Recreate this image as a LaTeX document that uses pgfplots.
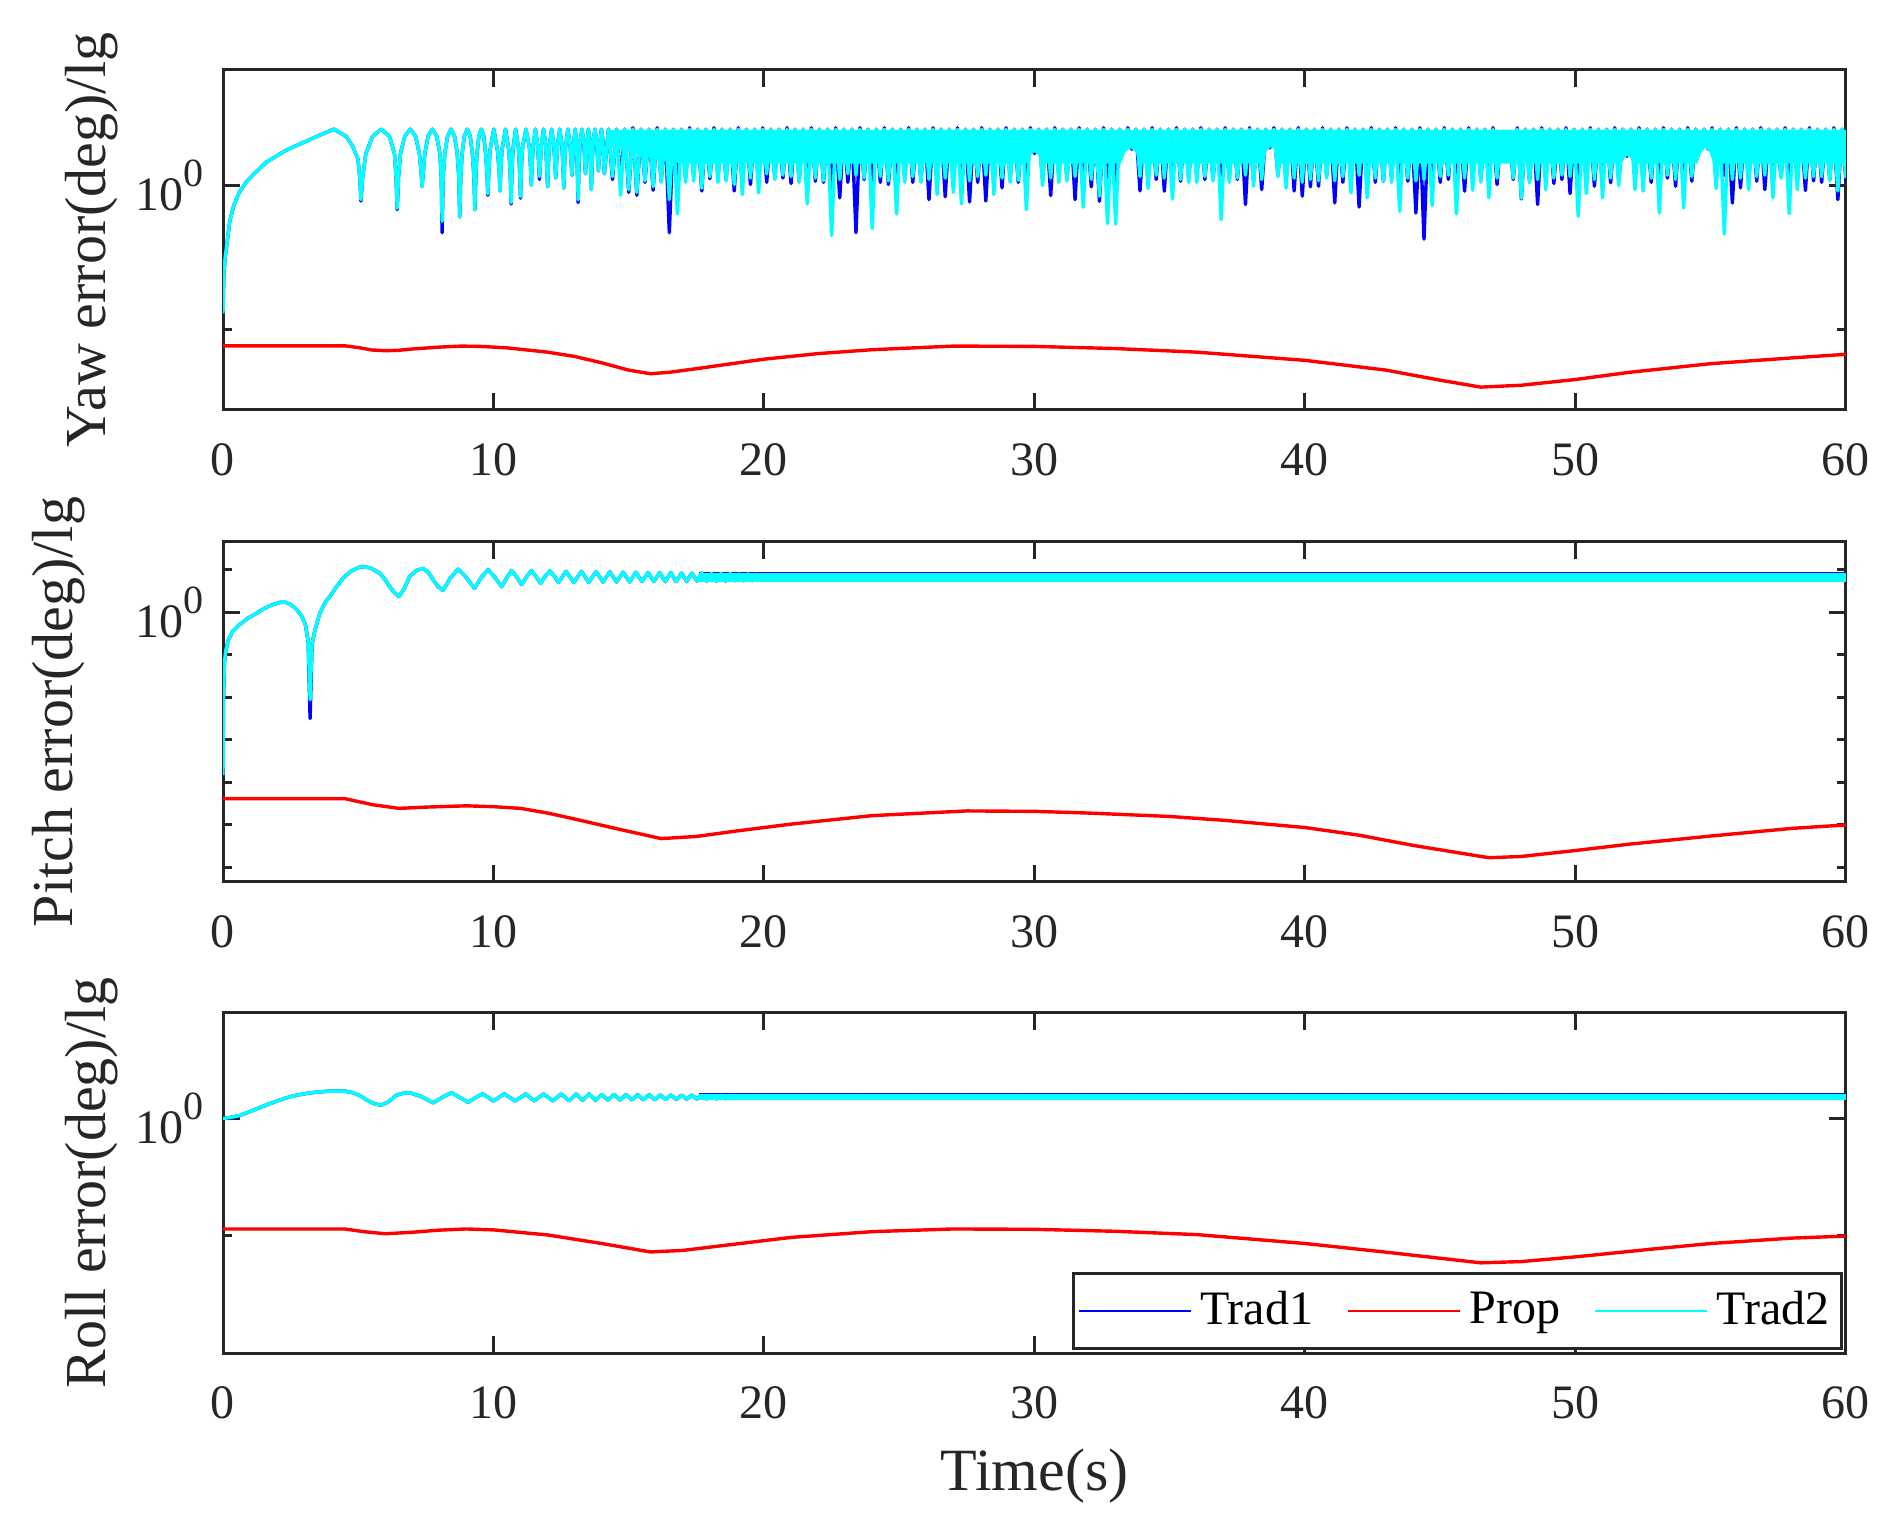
\documentclass[border=0pt]{standalone}
\usepackage{fontspec}
\setmainfont{Liberation Serif}
\usepackage{pgfplots}
\usepackage{pgfplotstable}
\pgfplotsset{compat=1.18}

\definecolor{axcol}{RGB}{38,38,38}
\definecolor{tradone}{RGB}{0,0,255}
\definecolor{propc}{RGB}{255,0,0}
\definecolor{tradtwo}{RGB}{0,255,255}

% ---------- yaw error (lg of deg): t, Trad1, Trad2 ----------
\pgfplotstableread{
t b c
0.00 -0.89 -0.89
0.03 -0.62 -0.62
0.08 -0.50 -0.50
0.15 -0.40 -0.40
0.25 -0.25 -0.25
0.40 -0.14 -0.14
0.60 -0.05 -0.05
0.85 0.02 0.02
1.10 0.07 0.07
1.60 0.16 0.16
2.30 0.24 0.24
3.00 0.30 0.30
3.60 0.35 0.35
4.10 0.39 0.39
4.55 0.34 0.34
4.80 0.27 0.27
4.99 0.18 0.18
5.06 0.05 0.05
5.10 -0.11 -0.10
5.16 0.05 0.05
5.28 0.22 0.22
5.53 0.34 0.34
5.85 0.39 0.39
6.15 0.34 0.34
6.34 0.22 0.22
6.40 0.05 0.05
6.44 -0.17 -0.16
6.49 0.06 0.06
6.56 0.22 0.22
6.72 0.34 0.34
6.92 0.39 0.39
7.12 0.34 0.34
7.26 0.22 0.22
7.33 0.08 0.08
7.36 -0.01 -0.01
7.40 0.08 0.08
7.46 0.22 0.22
7.58 0.34 0.34
7.74 0.39 0.39
7.90 0.34 0.34
8.02 0.22 0.22
8.07 0.05 0.05
8.10 -0.33 -0.25
8.14 0.06 0.06
8.20 0.22 0.22
8.30 0.34 0.34
8.43 0.39 0.39
8.56 0.34 0.34
8.66 0.22 0.22
8.72 0.05 0.05
8.75 -0.22 -0.22
8.79 0.06 0.06
8.84 0.22 0.22
8.92 0.34 0.34
9.03 0.39 0.39
9.14 0.34 0.34
9.22 0.22 0.22
9.28 0.05 0.05
9.31 -0.17 -0.17
9.35 0.08 0.08
9.39 0.22 0.22
9.46 0.34 0.34
9.55 0.39 0.39
9.64 0.34 0.34
9.71 0.22 0.22
9.76 0.08 0.08
9.79 -0.07 -0.06
9.83 0.10 0.10
9.87 0.24 0.24
10.01 0.39 0.39
10.15 0.24 0.24
10.21 0.10 0.10
10.24 -0.04 -0.04
10.27 0.10 0.10
10.31 0.24 0.24
10.44 0.39 0.39
10.57 0.24 0.24
10.62 0.08 0.08
10.65 -0.13 -0.12
10.68 0.10 0.10
10.72 0.25 0.25
10.82 0.39 0.39
10.93 0.25 0.25
10.97 0.08 0.08
11.00 -0.09 -0.08
11.03 0.12 0.12
11.07 0.26 0.26
11.20 0.39 0.39
11.33 0.26 0.26
11.37 0.12 0.12
11.40 0.00 0.00
11.43 0.15 0.15
11.47 0.28 0.28
11.55 0.39 0.39
11.63 0.28 0.28
11.67 0.15 0.15
11.70 0.04 0.06
11.73 0.15 0.15
11.77 0.28 0.28
11.85 0.39 0.39
11.93 0.28 0.28
11.97 0.12 0.12
12.00 -0.01 -0.01
12.03 0.15 0.15
12.07 0.28 0.28
12.15 0.39 0.39
12.23 0.28 0.28
12.27 0.15 0.15
12.30 0.05 0.05
12.33 0.15 0.15
12.37 0.28 0.28
12.45 0.39 0.39
12.53 0.28 0.28
12.57 0.12 0.12
12.60 -0.02 -0.02
12.63 0.16 0.16
12.67 0.28 0.28
12.75 0.39 0.39
12.83 0.28 0.28
12.87 0.16 0.16
12.90 0.07 0.07
12.93 0.18 0.18
12.97 0.30 0.30
13.02 0.39 0.39
13.07 0.30 0.30
13.10 0.10 0.10
13.13 -0.12 -0.10
13.16 0.15 0.15
13.20 0.30 0.30
13.27 0.39 0.39
13.34 0.30 0.30
13.37 0.18 0.18
13.40 0.08 0.08
13.43 0.18 0.18
13.47 0.31 0.31
13.51 0.39 0.39
13.56 0.31 0.31
13.59 0.12 0.12
13.62 -0.03 -0.03
13.65 0.18 0.18
13.69 0.31 0.31
13.75 0.39 0.39
13.81 0.31 0.31
13.85 0.18 0.18
13.88 0.10 0.10
13.91 0.20 0.20
13.95 0.32 0.32
13.99 0.39 0.39
14.04 0.32 0.32
14.07 0.18 0.18
14.10 0.08 0.08
14.25 0.39 0.39
14.40 0.04 0.06
14.55 0.39 0.39
14.70 0.02 -0.07
14.85 0.39 0.39
15.00 -0.05 -0.03
15.15 0.40 0.39
15.30 -0.07 -0.05
15.45 0.39 0.39
15.60 0.02 0.03
15.75 0.39 0.39
15.90 -0.035 -0.01
16.05 0.40 0.39
16.20 0.03 0.02
16.35 0.39 0.39
16.50 -0.33 -0.10
16.65 0.39 0.39
16.80 0.04 -0.20
16.95 0.39 0.39
17.10 0.05 0.02
17.25 0.40 0.39
17.40 0.07 0.03
17.55 0.39 0.39
17.70 -0.04 -0.02
17.85 0.39 0.39
18.00 0.045 0.06
18.15 0.40 0.39
18.30 0.06 0.02
18.45 0.39 0.39
18.60 0.04 0.03
18.75 0.39 0.39
18.90 -0.04 0.005
19.05 0.40 0.39
19.20 0.03 -0.065
19.35 0.39 0.39
19.50 0.005 0.05
19.65 0.39 0.39
19.80 0.02 -0.053
19.95 0.40 0.39
20.10 0.02 0.08
20.25 0.39 0.39
20.40 0.056 0.04
20.55 0.39 0.39
20.70 0.05 0.07
20.85 0.40 0.39
21.00 0.012 0.06
21.15 0.39 0.39
21.30 0.03 0.02
21.45 0.39 0.39
21.60 0.04 -0.13
21.75 0.40 0.39
21.90 0.028 0.05
22.05 0.39 0.39
22.20 0.02 0.03
22.35 0.39 0.39
22.50 -0.007 -0.35
22.65 0.40 0.39
22.80 -0.088 0.04
22.95 0.39 0.39
23.10 0.02 0.08
23.25 0.39 0.39
23.40 -0.33 0.07
23.55 0.40 0.39
23.70 0.04 0.05
23.85 0.39 0.39
24.00 0.02 -0.30
24.15 0.39 0.39
24.30 0.02 0.06
24.45 0.40 0.39
24.60 0.005 0.03
24.75 0.39 0.39
24.90 0.07 -0.20
25.05 0.39 0.39
25.20 0.05 0.02
25.35 0.40 0.39
25.50 0.02 0.06
25.65 0.39 0.39
25.80 0.03 0.02
25.95 0.39 0.39
26.10 -0.10 0.04
26.25 0.40 0.39
26.40 0.07 -0.065
26.55 0.39 0.39
26.70 -0.08 0.05
26.85 0.39 0.39
27.00 0.04 -0.05
27.15 0.40 0.39
27.30 0.02 -0.13
27.45 0.39 0.39
27.60 -0.116 0.03
27.75 0.39 0.39
27.90 0.02 0.06
28.05 0.40 0.39
28.20 -0.11 0.07
28.35 0.39 0.39
28.50 0.03 -0.065
28.65 0.39 0.39
28.80 -0.018 0.05
28.95 0.40 0.39
29.10 0.04 0.02
29.25 0.39 0.39
29.40 0.02 0.033
29.55 0.39 0.39
29.70 0.03 -0.17
29.85 0.40 0.39
30.00 0.22 0.24
30.15 0.39 0.39
30.30 0.04 -0.002
30.45 0.39 0.39
30.60 -0.072 0.05
30.75 0.40 0.39
30.90 0.07 0.02
31.05 0.39 0.39
31.20 0.05 0.03
31.35 0.39 0.39
31.50 -0.10 0.06
31.65 0.40 0.39
31.80 0.02 -0.153
31.95 0.39 0.39
32.10 -0.011 0.04
32.25 0.39 0.39
32.40 -0.111 -0.076
32.55 0.40 0.39
32.70 0.03 -0.267
32.85 0.39 0.39
33.00 0.02 -0.269
33.15 0.39 0.39
33.30 0.24 0.25
33.45 0.40 0.39
33.60 0.25 0.26
33.75 0.39 0.39
33.90 -0.039 0.06
34.05 0.39 0.39
34.20 0.03 -0.023
34.35 0.40 0.39
34.50 0.04 0.07
34.65 0.39 0.39
34.80 -0.041 0.05
34.95 0.39 0.39
35.10 0.07 -0.095
35.25 0.40 0.39
35.40 0.028 0.04
35.55 0.39 0.39
35.70 0.05 0.02
35.85 0.39 0.39
36.00 0.06 0.02
36.15 0.40 0.39
36.30 0.04 0.06
36.45 0.39 0.39
36.60 0.04 0.03
36.75 0.39 0.39
36.90 0.07 -0.239
37.05 0.40 0.39
37.20 0.05 0.02
37.35 0.39 0.39
37.50 0.04 0.05
37.65 0.39 0.39
37.80 -0.134 0.07
37.95 0.40 0.39
38.10 0.03 -0.007
38.25 0.39 0.39
38.40 -0.03 0.04
38.55 0.39 0.39
38.70 0.26 0.27
38.85 0.40 0.39
39.00 0.07 0.06
39.15 0.39 0.39
39.30 0.04 -0.02
39.45 0.39 0.39
39.60 -0.04 0.05
39.75 0.40 0.39
39.90 -0.076 0.02
40.05 0.39 0.39
40.20 -0.011 0.04
40.35 0.39 0.39
40.50 -0.007 0.03
40.65 0.40 0.39
40.80 0.07 0.05
40.95 0.39 0.39
41.10 -0.123 0.03
41.25 0.39 0.39
41.40 0.02 0.06
41.55 0.40 0.39
41.70 0.03 -0.053
41.85 0.39 0.39
42.00 -0.151 0.07
42.15 0.39 0.39
42.30 0.04 -0.088
42.45 0.40 0.39
42.60 0.02 0.05
42.75 0.39 0.39
42.90 0.028 0.03
43.05 0.39 0.39
43.20 0.05 0.02
43.35 0.40 0.39
43.50 0.07 -0.181
43.65 0.39 0.39
43.80 0.028 0.05
43.95 0.39 0.39
44.10 -0.193 0.03
44.25 0.40 0.39
44.40 -0.374 0.04
44.55 0.39 0.39
44.70 0.03 -0.141
44.85 0.39 0.39
45.00 0.02 0.06
45.15 0.40 0.39
45.30 0.04 0.07
45.45 0.39 0.39
45.60 0.03 -0.20
45.75 0.39 0.39
45.90 -0.041 0.05
46.05 0.40 0.39
46.20 0.07 -0.035
46.35 0.39 0.39
46.50 0.04 0.021
46.65 0.39 0.39
46.80 0.03 -0.088
46.95 0.40 0.39
47.10 0.005 0.05
47.25 0.36 0.36
47.40 0.17 0.18
47.55 0.36 0.36
47.70 0.04 0.05
47.85 0.40 0.39
48.00 -0.095 -0.09
48.15 0.39 0.39
48.30 0.03 0.017
48.45 0.39 0.39
48.60 -0.134 0.04
48.75 0.40 0.39
48.90 0.07 -0.03
49.05 0.39 0.39
49.20 0.012 0.05
49.35 0.39 0.39
49.50 0.04 0.07
49.65 0.40 0.39
49.80 -0.058 0.06
49.95 0.39 0.39
50.10 0.03 -0.216
50.25 0.39 0.39
50.40 0.07 -0.058
50.55 0.40 0.39
50.70 -0.007 0.04
50.85 0.39 0.39
51.00 0.04 -0.088
51.15 0.39 0.39
51.30 0.017 0.05
51.45 0.40 0.39
51.60 0.03 -0.002
51.75 0.39 0.39
51.90 0.20 0.21
52.05 0.39 0.39
52.20 0.07 -0.03
52.35 0.40 0.39
52.50 0.04 -0.041
52.65 0.39 0.39
52.80 0.02 0.05
52.95 0.39 0.39
53.10 0.03 -0.193
53.25 0.40 0.39
53.40 0.05 0.07
53.55 0.39 0.39
53.70 -0.007 0.04
53.85 0.39 0.39
54.00 0.07 -0.158
54.15 0.40 0.39
54.30 0.028 0.06
54.45 0.39 0.39
54.60 0.24 0.25
54.75 0.39 0.39
54.90 0.25 0.26
55.05 0.40 0.39
55.20 0.03 -0.023
55.35 0.39 0.39
55.50 0.07 -0.339
55.65 0.39 0.39
55.80 -0.123 0.04
55.95 0.40 0.39
56.10 -0.018 0.05
56.25 0.39 0.39
56.40 0.03 -0.03
56.55 0.39 0.39
56.70 0.028 0.06
56.85 0.40 0.39
57.00 -0.03 0.07
57.15 0.39 0.39
57.30 0.04 -0.088
57.45 0.39 0.39
57.60 0.056 0.05
57.75 0.40 0.39
57.90 0.07 -0.197
58.05 0.39 0.39
58.20 0.045 -0.03
58.35 0.39 0.39
58.50 -0.037 0.05
58.65 0.40 0.39
58.80 0.03 0.06
58.95 0.39 0.39
59.10 0.02 0.06
59.25 0.39 0.39
59.40 0.04 0.03
59.55 0.40 0.39
59.70 -0.10 -0.04
59.85 0.39 0.39
60.00 0.03 0.05
}\yawdata

% envelope of the fast Trad2 oscillation (upper edge, then lower edge back)
\pgfplotstableread{
t v
14.30 0.385
60.00 0.385
60.00 0.15
55.10 0.15
54.95 0.23
54.80 0.26
54.65 0.23
54.50 0.15
52.15 0.15
52.00 0.20
51.85 0.20
51.70 0.15
39.05 0.15
38.90 0.24
38.75 0.27
38.60 0.24
38.45 0.15
33.90 0.15
33.75 0.23
33.55 0.26
33.35 0.23
33.20 0.15
30.30 0.15
30.15 0.21
30.00 0.23
29.85 0.21
29.70 0.15
17.00 0.15
16.00 0.18
15.00 0.23
14.30 0.27
}\yawband

\pgfplotstableread{
t p
0.0 -1.116
4.5 -1.116
5.0 -1.128
5.5 -1.145
6.0 -1.150
6.5 -1.147
7.0 -1.138
8.0 -1.125
8.8 -1.118
9.5 -1.120
10.5 -1.130
12.0 -1.160
13.0 -1.190
14.0 -1.234
15.0 -1.285
15.8 -1.310
16.5 -1.300
17.5 -1.275
19.0 -1.235
20.0 -1.209
22.0 -1.170
24.0 -1.143
27.0 -1.118
30.0 -1.120
33.0 -1.135
36.0 -1.160
40.0 -1.217
43.0 -1.285
45.0 -1.355
46.5 -1.403
48.0 -1.390
50.0 -1.350
52.0 -1.300
55.0 -1.240
58.0 -1.200
60.0 -1.175
}\yawprop

% ---------- pitch error ----------
\pgfplotstableread{
t b c
0.00 -3.83 -3.83
0.02 -2.00 -2.00
0.05 -1.20 -1.20
0.10 -0.90 -0.90
0.20 -0.65 -0.65
0.35 -0.45 -0.45
0.60 -0.30 -0.30
0.90 -0.15 -0.15
1.20 -0.04 -0.04
1.50 0.08 0.08
1.80 0.17 0.17
2.10 0.23 0.23
2.30 0.235 0.235
2.50 0.18 0.18
2.70 0.08 0.08
2.90 -0.08 -0.08
3.05 -0.30 -0.30
3.15 -0.70 -0.70
3.22 -2.50 -2.06
3.29 -0.75 -0.75
3.40 -0.42 -0.42
3.58 -0.02 -0.02
3.80 0.25 0.25
3.95 0.37 0.37
4.20 0.60 0.60
4.44 0.80 0.80
4.70 0.95 0.95
5.00 1.05 1.05
5.18 1.07 1.07
5.45 1.04 1.04
5.79 0.92 0.92
6.00 0.76 0.76
6.16 0.60 0.60
6.35 0.45 0.45
6.50 0.37 0.37
6.70 0.55 0.55
6.90 0.84 0.84
7.15 0.98 0.98
7.40 1.03 1.03
7.60 0.93 0.93
7.77 0.76 0.76
7.95 0.60 0.60
8.13 0.51 0.51
8.40 0.80 0.80
8.69 1.01 1.01
8.95 0.85 0.85
9.30 0.56 0.56
9.55 0.82 0.82
9.80 1.00 1.00
10.05 0.82 0.82
10.30 0.60 0.60
10.50 0.82 0.82
10.67 0.98 0.98
10.85 0.83 0.83
11.04 0.65 0.65
11.22 0.83 0.83
11.40 0.98 0.98
11.57 0.84 0.84
11.74 0.68 0.68
11.91 0.84 0.84
12.08 0.97 0.97
12.24 0.85 0.85
12.40 0.70 0.70
12.68 0.96 0.96
12.97 0.70 0.70
13.25 0.96 0.96
13.52 0.70 0.70
13.79 0.95 0.95
14.05 0.71 0.71
14.30 0.95 0.95
14.55 0.71 0.71
14.79 0.94 0.94
15.03 0.71 0.71
15.26 0.94 0.94
15.49 0.72 0.72
15.71 0.93 0.93
15.93 0.72 0.72
16.14 0.93 0.93
16.35 0.72 0.72
16.55 0.93 0.93
16.75 0.72 0.72
16.95 0.92 0.92
17.14 0.72 0.72
17.33 0.92 0.92
17.52 0.73 0.73
17.70 0.92 0.92
17.88 0.73 0.73
18.06 0.91 0.91
18.24 0.73 0.73
18.41 0.91 0.91
18.58 0.73 0.73
18.75 0.91 0.91
18.92 0.74 0.74
19.08 0.90 0.90
19.24 0.74 0.74
19.40 0.90 0.90
19.56 0.74 0.74
19.71 0.89 0.89
20.5 0.76 0.76
21.5 0.88 0.88
22.5 0.76 0.76
23.5 0.88 0.88
24.5 0.76 0.76
25.5 0.88 0.88
26.5 0.76 0.76
27.5 0.88 0.88
28.5 0.76 0.76
29.5 0.88 0.88
30.5 0.76 0.76
31.5 0.88 0.88
32.5 0.76 0.76
33.5 0.88 0.88
34.5 0.76 0.76
35.5 0.88 0.88
36.5 0.76 0.76
37.5 0.88 0.88
38.5 0.76 0.76
39.5 0.88 0.88
40.5 0.76 0.76
41.5 0.88 0.88
42.5 0.76 0.76
43.5 0.88 0.88
44.5 0.76 0.76
45.5 0.88 0.88
46.5 0.76 0.76
47.5 0.88 0.88
48.5 0.76 0.76
49.5 0.88 0.88
50.5 0.76 0.76
51.5 0.88 0.88
52.5 0.76 0.76
53.5 0.88 0.88
54.5 0.76 0.76
55.5 0.88 0.88
56.5 0.76 0.76
57.5 0.88 0.88
58.5 0.76 0.76
59.5 0.88 0.88
60.0 0.82 0.82
}\pitchdata

\pgfplotstableread{
t p
0.0 -4.38
4.5 -4.38
5.0 -4.45
5.5 -4.52
6.5 -4.61
7.5 -4.58
9.0 -4.55
10.0 -4.57
11.0 -4.61
12.0 -4.72
13.0 -4.86
14.5 -5.08
16.2 -5.32
17.5 -5.27
19.0 -5.14
21.0 -4.98
24.0 -4.78
27.5 -4.67
30.0 -4.68
32.0 -4.72
35.0 -4.80
37.0 -4.89
40.0 -5.06
42.0 -5.24
44.0 -5.48
46.8 -5.77
48.0 -5.74
50.0 -5.60
52.0 -5.45
55.0 -5.26
58.0 -5.08
60.0 -5.00
}\pitchprop

% ---------- roll error ----------
\pgfplotstableread{
t b c
0.00 0.00 0.00
0.30 0.01 0.01
0.63 0.026 0.026
1.00 0.06 0.06
1.49 0.105 0.105
2.00 0.15 0.15
2.35 0.177 0.177
2.70 0.198 0.198
3.09 0.214 0.214
3.50 0.226 0.226
3.95 0.234 0.234
4.50 0.234 0.234
4.80 0.22 0.22
5.05 0.197 0.197
5.30 0.16 0.16
5.60 0.125 0.125
5.84 0.114 0.114
6.10 0.14 0.14
6.40 0.197 0.197
6.65 0.215 0.215
6.90 0.22 0.22
7.30 0.19 0.19
7.77 0.134 0.134
8.10 0.18 0.18
8.45 0.22 0.22
8.75 0.18 0.18
9.06 0.14 0.14
9.35 0.18 0.18
9.60 0.21 0.21
10.00 0.15 0.15
10.40 0.21 0.21
10.80 0.15 0.15
11.20 0.21 0.21
11.50 0.15 0.15
11.85 0.21 0.21
12.20 0.15 0.15
12.50 0.21 0.21
12.80 0.15 0.15
13.05 0.21 0.21
13.30 0.155 0.155
13.53 0.21 0.21
13.77 0.155 0.155
14.00 0.205 0.205
14.23 0.157 0.157
14.45 0.205 0.205
14.68 0.158 0.158
14.90 0.204 0.204
15.12 0.158 0.158
15.33 0.203 0.203
15.54 0.16 0.16
15.75 0.203 0.203
15.96 0.16 0.16
16.16 0.202 0.202
16.36 0.162 0.162
16.56 0.201 0.201
16.76 0.163 0.163
16.95 0.200 0.200
17.14 0.164 0.164
17.33 0.200 0.200
17.52 0.165 0.165
17.70 0.199 0.199
17.88 0.166 0.166
18.06 0.199 0.199
18.24 0.167 0.167
18.41 0.198 0.198
18.58 0.168 0.168
18.75 0.198 0.198
18.92 0.170 0.170
19.08 0.197 0.197
19.24 0.171 0.171
19.40 0.196 0.196
19.56 0.172 0.172
19.71 0.195 0.195
20.5 0.175 0.175
21.5 0.195 0.195
22.5 0.175 0.175
23.5 0.195 0.195
24.5 0.175 0.175
25.5 0.195 0.195
26.5 0.175 0.175
27.5 0.195 0.195
28.5 0.175 0.175
29.5 0.195 0.195
30.5 0.175 0.175
31.5 0.195 0.195
32.5 0.175 0.175
33.5 0.195 0.195
34.5 0.175 0.175
35.5 0.195 0.195
36.5 0.175 0.175
37.5 0.195 0.195
38.5 0.175 0.175
39.5 0.195 0.195
40.5 0.175 0.175
41.5 0.195 0.195
42.5 0.175 0.175
43.5 0.195 0.195
44.5 0.175 0.175
45.5 0.195 0.195
46.5 0.175 0.175
47.5 0.195 0.195
48.5 0.175 0.175
49.5 0.195 0.195
50.5 0.175 0.175
51.5 0.195 0.195
52.5 0.175 0.175
53.5 0.195 0.195
54.5 0.175 0.175
55.5 0.195 0.195
56.5 0.175 0.175
57.5 0.195 0.195
58.5 0.175 0.175
59.5 0.195 0.195
60.0 0.185 0.185
}\rolldata

\pgfplotstableread{
t p
0.0 -0.942
4.5 -0.942
5.2 -0.965
6.0 -0.983
7.0 -0.970
8.0 -0.952
9.0 -0.942
10.0 -0.950
12.0 -0.993
14.0 -1.066
15.8 -1.138
17.0 -1.125
18.0 -1.097
21.0 -1.014
24.0 -0.965
27.0 -0.942
30.0 -0.945
33.0 -0.962
36.0 -0.990
40.0 -1.066
43.0 -1.140
46.5 -1.231
48.0 -1.220
50.0 -1.180
53.0 -1.110
55.0 -1.066
58.0 -1.020
60.0 -1.003
}\rollprop

\pgfplotsset{
  /pgf/number format/assume math mode=true,
  errpanel/.style={
    scale only axis, width=405.75pt, height=85pt,
    anchor=south west,
    xmin=0, xmax=60, xtick={0,10,...,60},
    ytick={0},
    yticklabels={10\raisebox{6pt}{\fontsize{10}{10}\selectfont 0}},
    axis line style={draw=axcol, line width=0.75pt},
    every tick/.append style={draw=axcol, line width=0.75pt},
    tick align=inside, major tick length=4.25pt, minor tick length=2.25pt,
    tick label style={font=\fontsize{12}{12}\selectfont, text=axcol},
    xticklabel style={yshift=-4.75pt},
    yticklabel style={xshift=-1.25pt},
    every axis y label/.style={at={(axis description cs:-0.0727,0.5)},
      rotate=90, anchor=base, font=\fontsize{14.5}{14.5}\selectfont, text=axcol},
    no markers,
  },
  sig/.style={line width=0.85pt, line join=round},
}

\begin{document}
\begin{tikzpicture}
\path[use as bounding box] (0,0) rectangle (474.25pt,383.5pt);

% yaw
\begin{axis}[errpanel, at={(55.75pt,281pt)},
  ymin=-1.562, ymax=0.801, minor ytick={-1},
  ylabel={Yaw error(deg)/lg}]
\addplot[sig, tradone] table[x=t, y=b] {\yawdata};
\addplot[sig, propc] table[x=t, y=p] {\yawprop};
\addplot[draw=none, fill=tradtwo, forget plot] table[x=t, y=v] {\yawband};
\addplot[sig, tradtwo] table[x=t, y=c] {\yawdata};
\end{axis}

% pitch
\begin{axis}[errpanel, at={(55.75pt,163pt)},
  ymin=-6.34, ymax=1.65, minor ytick={-6,-5,-4,-3,-2,-1,1},
  ylabel={Pitch error(deg)/lg},
  ylabel style={at={(axis description cs:-0.093,0.5)}}]
\addplot[draw=none, fill=tradone, forget plot] coordinates {(17.6,0.935) (60,0.935) (60,0.705) (17.6,0.705)};
\addplot[sig, tradone] table[x=t, y=b] {\pitchdata};
\addplot[sig, propc] table[x=t, y=p] {\pitchprop};
\addplot[draw=none, fill=tradtwo, forget plot] coordinates {(17.6,0.92) (60,0.92) (60,0.72) (17.6,0.72)};
\addplot[sig, tradtwo] table[x=t, y=c] {\pitchdata};
\end{axis}

% roll
\begin{axis}[errpanel, at={(55.75pt,45.25pt)},
  ymin=-2.0, ymax=0.9, minor ytick={-1},
  ylabel={Roll error(deg)/lg},
  xlabel={Time(s)},
  xlabel style={at={(axis description cs:0.5,0)}, anchor=base, yshift=-34.25pt,
    font=\fontsize{15}{15}\selectfont, text=axcol},
  legend columns=3,
  legend cell align=left,
  legend style={at={(axis description cs:1,0)}, anchor=south east,
    xshift=-0.75pt, yshift=0.75pt, draw=axcol, line width=0.75pt,
    font=\fontsize{12}{12}\selectfont, text=black,
    inner xsep=1pt, inner ysep=2.5pt,
    /tikz/every even column/.append style={column sep=6.5pt}},
  legend image code/.code={\draw[#1, line width=0.6pt] (0pt,0pt) -- (28pt,0pt);}]
\addplot[draw=none, fill=tradone, forget plot] coordinates {(17.6,0.215) (60,0.215) (60,0.155) (17.6,0.155)};
\addplot[sig, tradone] table[x=t, y=b] {\rolldata};
\addplot[sig, propc] table[x=t, y=p] {\rollprop};
\addplot[draw=none, fill=tradtwo, forget plot] coordinates {(17.6,0.21) (60,0.21) (60,0.16) (17.6,0.16)};
\addplot[sig, tradtwo] table[x=t, y=c] {\rolldata};
\legend{Trad1,Prop,Trad2}
\end{axis}
\end{tikzpicture}
\end{document}
